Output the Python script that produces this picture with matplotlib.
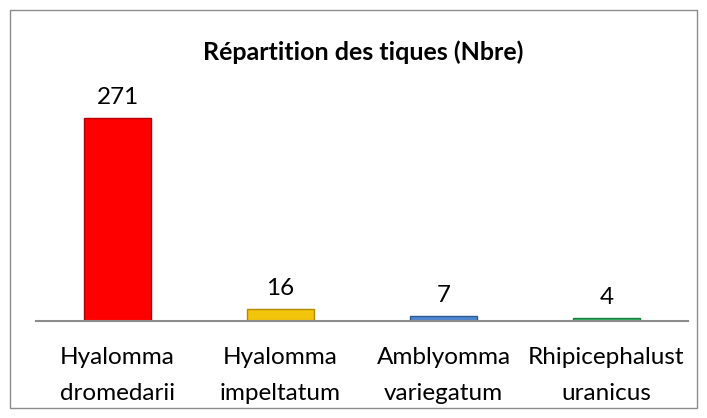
import matplotlib
matplotlib.use("Agg")
import matplotlib.pyplot as plt
from matplotlib.patches import Rectangle

categories = ["Hyalomma\ndromedarii", "Hyalomma\nimpeltatum", "Amblyomma\nvariegatum", "Rhipicephalust\nuranicus"]
values = [271, 16, 7, 4]
colors = ["#FF0000", "#F2C40C", "#4F86D0", "#2BB55E"]
edges = ["#B00000", "#B08A00", "#2F5A96", "#1C8040"]
title = "Répartition des tiques (Nbre)"

plt.rcParams['font.family'] = ['Lato', 'DejaVu Sans']

fig = plt.figure(figsize=(7.07, 4.18), dpi=100)
fig.patches.append(Rectangle((10/707, 10/418), 687/707, 398/418, transform=fig.transFigure,
                             fill=False, edgecolor="#8C8C8C", linewidth=1.0))

ax = fig.add_axes([36/707, (418-321)/418, 652/707, 225/418])
x = range(len(values))
bars = ax.bar(x, values, width=0.405, color=colors, edgecolor=edges, linewidth=1.0)
ax.set_xlim(-0.5, 3.5)
ax.set_ylim(0, 300)
for i, v in enumerate(values):
    ax.annotate(str(v), (i, v), xytext=(0, 7), textcoords="offset points",
                ha="center", va="bottom", fontsize=17.5)
ax.set_yticks([])
ax.set_xticks(list(x))
ax.set_xticklabels(categories, fontsize=17.5, linespacing=1.9)
ax.tick_params(axis='x', length=0, pad=18.5)
for s in ["top", "right", "left"]:
    ax.spines[s].set_visible(False)
ax.spines["bottom"].set_color("#8C8C8C")
ax.spines["bottom"].set_linewidth(1.5)
fig.text(363/707, 1-52/418, title, ha="center", va="center", fontsize=18, fontweight="bold")
fig.savefig("out.png", dpi=100)
